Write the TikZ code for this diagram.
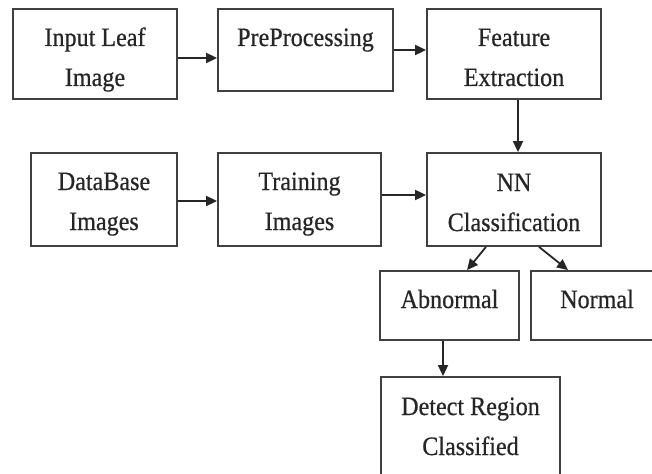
\documentclass[tikz,border=0pt]{standalone}
\usepackage{fontspec}
\setmainfont[FakeStretch=0.91,FakeBold=0.6]{Liberation Serif}
\usetikzlibrary{arrows.meta}
\tikzset{
  box/.style={draw=black!75, line width=1.8pt, inner sep=0pt, fill=white},
  lbl/.style={anchor=base, inner sep=0pt, text=black!85, font=\fontsize{26.5}{40}\selectfont},
  arr/.style={draw=black!85, line width=1.8pt, -{Triangle[length=11pt,width=10pt]}},
}
\newcommand{\twoline}[2]{\begin{tabular}[t]{@{}c@{}}#1\\#2\end{tabular}}
\begin{document}
\begin{tikzpicture}[x=1pt,y=-1pt]
  \useasboundingbox (0,0) rectangle (652,473);
  \fill[white] (0,0) rectangle (652,473);
  \clip (0,0) rectangle (652,473);

  % boxes
  \node[box, minimum width=164pt, minimum height=90pt] (inp)  at (95,54) {};
  \node[box, minimum width=175pt, minimum height=82pt] (pre)  at (305.5,50) {};
  \node[box, minimum width=174pt, minimum height=90pt] (feat) at (514,54) {};
  \node[box, minimum width=146pt, minimum height=93pt] (db)   at (104,199.5) {};
  \node[box, minimum width=163pt, minimum height=93pt] (tr)   at (299.5,199.5) {};
  \node[box, minimum width=174pt, minimum height=93pt] (nn)   at (514,199.5) {};
  \node[box, minimum width=139pt, minimum height=69pt] (abn)  at (449.5,305.5) {};
  \node[box, minimum width=132pt, minimum height=69pt] (nor)  at (597,305.5) {};
  \node[box, minimum width=179pt, minimum height=110pt] (det) at (470.5,432) {};

  % labels
  \node[lbl] (inpT)  at (95,46)    {\twoline{Input Leaf}{Image}};
  \node[lbl] (preT)  at (305.5,46) {PreProcessing};
  \node[lbl] (featT) at (514,46)   {\twoline{Feature}{Extraction}};
  \node[lbl] (dbT)   at (104,190)  {\twoline{DataBase}{Images}};
  \node[lbl] (trT)   at (299.5,190){\twoline{Training}{Images}};
  \node[lbl] (nnT)   at (514,191)  {\twoline{NN}{Classification}};
  \node[lbl] (abnT)  at (449.5,308){Abnormal};
  \node[lbl] (norT)  at (597,308)  {Normal};
  \node[lbl] (detT)  at (470.5,415){\twoline{Detect Region}{Classified}};

  % connectors
  \draw[arr] ([yshift=-4pt]inp.east) -- ([yshift=-4pt]inp.east -| pre.west);
  \draw[arr] (pre.east) -- (pre.east -| feat.west);
  \draw[arr] ([xshift=4pt]feat.south) -- ([xshift=4pt]feat.south |- nn.north);
  \draw[arr] ([yshift=-1.5pt]db.east) -- ([yshift=-1.5pt]db.east -| tr.west);
  \draw[arr] ([yshift=4.5pt]tr.east) -- ([yshift=4.5pt]tr.east -| nn.west);
  \draw[arr] ([xshift=-28pt]nn.south) -- ([xshift=17.5pt]abn.north);
  \draw[arr] ([xshift=25pt]nn.south) -- ([xshift=-29pt]nor.north);
  \draw[arr] ([xshift=-6.5pt]abn.south) -- ([xshift=-6.5pt]abn.south |- det.north);
\end{tikzpicture}
\end{document}
